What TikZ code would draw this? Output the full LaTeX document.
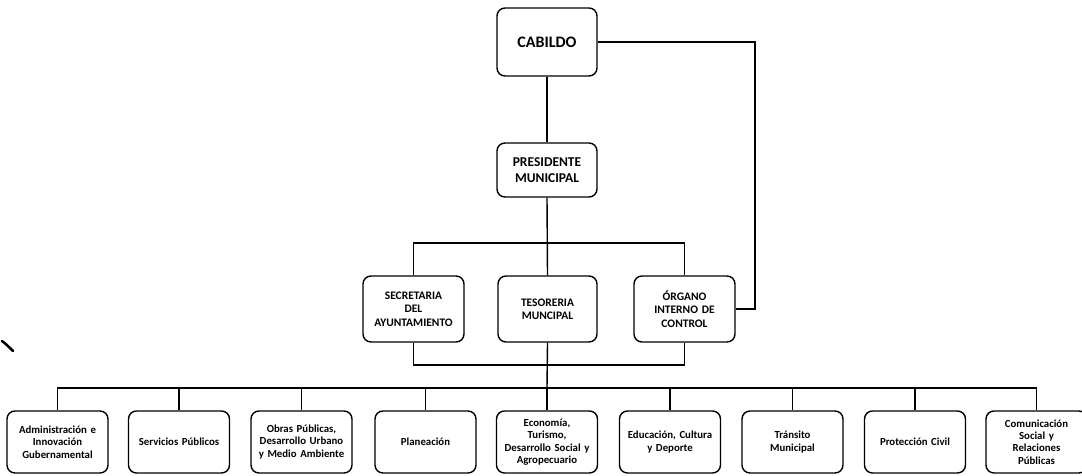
\documentclass[tikz,border=0pt]{standalone}
\usepackage{fontspec}
\setmainfont{Carlito}
\begin{document}
\begin{tikzpicture}[x=1pt,y=-1pt,
  box/.style={draw=black,line width=1.4pt,rounded corners=8pt,align=center,inner sep=1pt,font=\bfseries},
  topbox/.style={box,minimum width=100pt,text width=96pt},
  midbox/.style={box,minimum width=101pt,minimum height=66pt,text width=97pt,font=\bfseries\fontsize{11.5}{13.3}\selectfont},
  botbox/.style={box,minimum width=101pt,minimum height=62pt,text width=99pt,font=\bfseries\fontsize{10.8}{12.4}\selectfont},
  link/.style={line width=1.4pt}]
\useasboundingbox (0,0) rectangle (1082,476);

\node[topbox,minimum height=68pt,font=\bfseries\fontsize{16}{18}\selectfont] (cab) at (547,42) {CABILDO};
\node[topbox,minimum height=54pt,font=\bfseries\fontsize{13.5}{16}\selectfont] (pres) at (547,170) {PRESIDENTE\\MUNICIPAL};

\node[midbox] (sec) at (413.5,309) {SECRETARIA\\DEL\\AYUNTAMIENTO};
\node[midbox,minimum width=99pt] (tes) at (547.5,309) {TESORERIA\\MUNCIPAL};
\node[midbox] (org) at (684.5,309) {ÓRGANO\\INTERNO DE\\CONTROL};

\node[botbox] (b1) at (57.5,442) {Administración e\\Innovación\\Gubernamental};
\node[botbox] (b2) at (179,442) {Servicios Públicos};
\node[botbox] (b3) at (301.5,442) {Obras Públicas,\\Desarrollo Urbano\\y Medio Ambiente};
\node[botbox] (b4) at (425.5,442) {Planeación};
\node[botbox] (b5) at (547,442) {Economía,\\Turismo,\\Desarrollo Social y\\Agropecuario};
\node[botbox] (b6) at (670,442) {Educación, Cultura\\y Deporte};
\node[botbox] (b7) at (792.5,442) {Tránsito\\Municipal};
\node[botbox] (b8) at (915,442) {Protección Civil};
\node[botbox] (b9) at (1036.5,442) {Comunicación\\Social y\\Relaciones\\Públicas};

\coordinate (t1) at (547,243);
\coordinate (l1) at (547,365);
\coordinate (bb) at (547,388);
\coordinate (rt) at (755,42);

\draw[link] (cab) -- (pres);
\draw[link] (pres.south) -- (tes.north);
\draw[link] (sec.north) |- (t1) -| (org.north);
\draw[link] (sec.south) |- (l1) -| (org.south);
\draw[link] (tes.south) -- (bb);
\foreach \b in {b1,b2,b3,b4,b5,b6,b7,b8,b9}{
  \draw[link] (bb) -| (\b.north);
}
\draw[link] (cab.east) -- (rt) |- (org.east);

\draw[line width=2.5pt,line cap=round] (2,341) .. controls (7,345) .. (13,351);
\end{tikzpicture}
\end{document}
